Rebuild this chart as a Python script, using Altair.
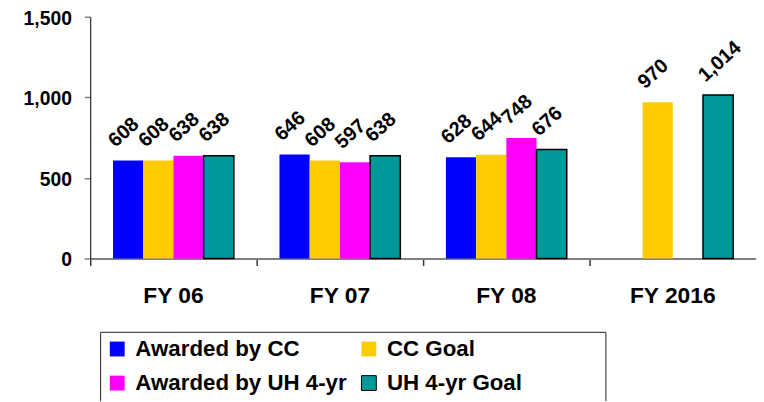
import altair as alt
import pandas as pd

categories = ["FY 06", "FY 07", "FY 08", "FY 2016"]
series = ["Awarded by CC", "CC Goal", "Awarded by UH 4-yr", "UH 4-yr Goal"]
awarded_cc = [608, 646, 628, None]
cc_goal = [608, 608, 644, 970]
awarded_uh = [638, 597, 748, None]
uh_goal = [638, 638, 676, 1014]
colors = ["#0000FF", "#FFCC00", "#FF00FF", "#009999"]
strokes = ["transparent", "transparent", "transparent", "#000000"]
y_ticks = [0, 500, 1000, 1500]

rows = []
for s, vals in zip(series, [awarded_cc, cc_goal, awarded_uh, uh_goal]):
    for c, v in zip(categories, vals):
        if v is not None:
            rows.append({"category": c, "series": s, "value": v})
df = pd.DataFrame(rows)

FONT = "Liberation Sans"

x_enc = alt.X(
    "category:N",
    sort=categories,
    scale=alt.Scale(domain=categories, paddingInner=0, paddingOuter=0),
    axis=alt.Axis(
        title=None,
        labelAngle=0,
        bandPosition=0,
        labelFontSize=23,
        labelFont=FONT,
        labelFontWeight="bold",
        labelColor="black",
        labelPadding=19,
        domainColor="#808080",
        domainWidth=2,
        tickColor="#333333",
        tickWidth=1.5,
        tickSize=7,
        grid=False,
    ),
)
xoff_enc = alt.XOffset(
    "series:N",
    sort=series,
    scale=alt.Scale(domain=series, paddingOuter=0.755, paddingInner=0),
)
y_enc = alt.Y(
    "value:Q",
    scale=alt.Scale(domain=[0, 1500], nice=False),
    axis=alt.Axis(
        title=None,
        values=y_ticks,
        format=",.0f",
        labelFontSize=19.5,
        labelFont=FONT,
        labelFontWeight="bold",
        labelColor="black",
        labelPadding=13,
        labelOffset=1.5,
        domainColor="black",
        domainWidth=1,
        tickColor="#808080",
        tickWidth=1.5,
        tickSize=6,
        grid=False,
    ),
)

bars = alt.Chart(df).mark_bar(strokeWidth=1.5).encode(
    x=x_enc,
    xOffset=xoff_enc,
    y=y_enc,
    color=alt.Color(
        "series:N",
        sort=series,
        scale=alt.Scale(domain=series, range=colors),
        legend=alt.Legend(title=" ", values=series),
    ),
    stroke=alt.Stroke(
        "series:N",
        sort=series,
        scale=alt.Scale(domain=series, range=strokes),
        legend=alt.Legend(title=" ", values=series),
    ),
)

labels = alt.Chart(df).mark_text(
    angle=318,
    align="left",
    baseline="alphabetic",
    dx=-1,
    dy=-18,
    fontSize=20,
    font=FONT,
    fontWeight="bold",
    color="black",
).encode(
    x=alt.X("category:N", sort=categories),
    xOffset=alt.XOffset("series:N", sort=series),
    y=alt.Y("value:Q"),
    text=alt.Text("value:Q", format=","),
)

chart = (
    alt.layer(bars, labels)
    .properties(
        width=672,
        height=244,
        padding={"left": 83, "top": 7, "right": 0, "bottom": 142},
        autosize=alt.AutoSizeParams(type="none"),
        background="white",
    )
    .configure_view(stroke=None)
    .configure_legend(
        orient="none",
        direction="horizontal",
        legendX=10,
        legendY=318,
        columns=2,
        symbolType="square",
        symbolSize=225,
        symbolStrokeWidth=1,
        labelFontSize=22.5,
        labelFont=FONT,
        labelFontWeight="bold",
        labelColor="black",
        labelLimit=400,
        labelOffset=7,
        strokeColor="#222222",
        fillColor="white",
        padding=6,
        rowPadding=11.5,
        columnPadding=11,
        titleOrient="right",
        titlePadding=78,
        titleFontSize=11,
    )
)

chart.save("out.html", embed_options={"renderer": "svg", "actions": False})
